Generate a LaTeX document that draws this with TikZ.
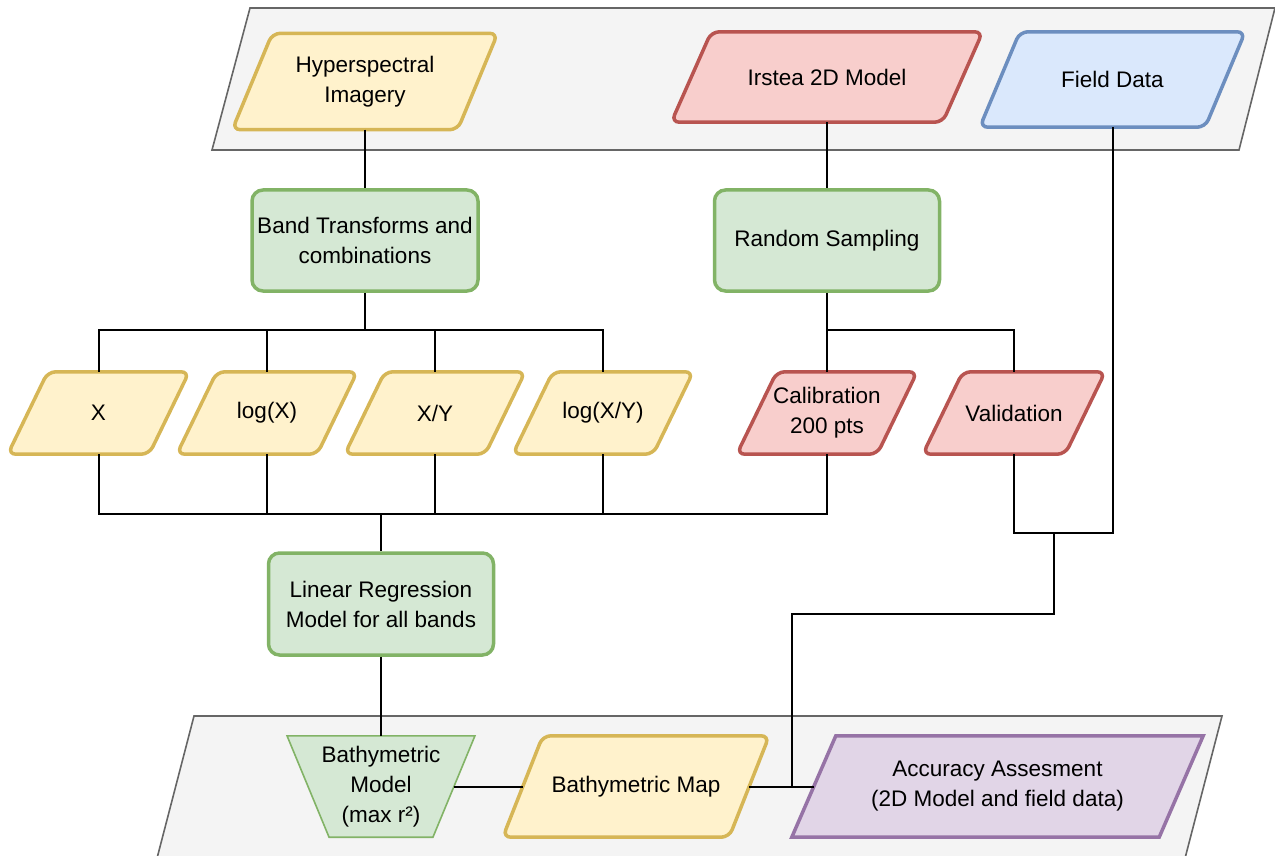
\documentclass[tikz,border=0pt]{standalone}
\usepackage{fontspec}
\setmainfont{Liberation Sans}
\usetikzlibrary{positioning,backgrounds}

\definecolor{yelfill}{HTML}{FFF2CC}
\definecolor{yelline}{HTML}{D6B656}
\definecolor{redfill}{HTML}{F8CECC}
\definecolor{redline}{HTML}{B85450}
\definecolor{bluefill}{HTML}{DAE8FC}
\definecolor{blueline}{HTML}{6C8EBF}
\definecolor{grnfill}{HTML}{D5E8D4}
\definecolor{grnline}{HTML}{82B366}
\definecolor{purfill}{HTML}{E1D5E7}
\definecolor{purline}{HTML}{9673A6}
\definecolor{panelfill}{HTML}{F4F4F4}
\definecolor{panelline}{HTML}{666666}

% slanted data box drawn behind a node (#1 node, #2 half skew, #3 look)
\newcommand{\databox}[3]{%
	\draw[#3] ([xshift=#2]#1.north west) -- ([xshift=#2]#1.north east)
		-- ([xshift=-#2]#1.south east) -- ([xshift=-#2]#1.south west) -- cycle;}

\begin{document}
\begin{tikzpicture}[
		x=1pt, y=-1pt,
		txt/.style={
		% The size:
		inner sep=0pt,
		minimum height=96,
		% Font
		align=center,
		font=\fontsize{22.5}{30}\selectfont
		},
		process/.style={
		txt,
		rectangle,
		rounded corners=11,
		line width=3.5pt,
		draw=grnline,
		fill=grnfill,
		minimum width=225,
		minimum height=101
		},
		yelbox/.style={line width=3.5pt, rounded corners=8, draw=yelline, fill=yelfill},
		redbox/.style={line width=3.5pt, rounded corners=8, draw=redline, fill=redfill},
		bluebox/.style={line width=3.5pt, rounded corners=8, draw=blueline, fill=bluefill},
		purbox/.style={line width=3.5pt, draw=purline, fill=purfill},
		panel/.style={line width=1.6pt, draw=panelline, fill=panelfill},
		link/.style={line width=2pt, draw=black}
	]
	\path[use as bounding box, clip] (0,0) rectangle (1275,856);

	% inputs
	\node (hyper)[txt, minimum width=225] at (365,81.5) {Hyperspectral\\Imagery};
	\node (irstea)[txt, minimum width=271, minimum height=90] at (827,77) {Irstea 2D Model};
	\node (field)[txt, minimum width=225, minimum height=95] at (1112.5,79.5) {Field Data};

	% processing
	\node (band)[process, minimum width=226] at (365,240.5) {Band Transforms and\\combinations};
	\node (random)[process] at (827,240.5) {Random Sampling};

	% band variants
	\node (x)[txt, minimum width=141, minimum height=82] at (98.5,413) {X};
	\node (logx)[txt, minimum width=140, minimum height=82] at (267,413) {log(X)};
	\node (xy)[txt, minimum width=140, minimum height=82] at (435,413) {X/Y};
	\node (logxy)[txt, minimum width=140, minimum height=82] at (603,413) {log(X/Y)};

	% samples
	\node (calib)[txt, minimum width=140, minimum height=82] at (827,413) {Calibration\\200 pts};
	\node (valid)[txt, minimum width=142, minimum height=82] at (1014,413) {Validation};

	\node (linreg)[process, minimum height=102] at (381,604) {Linear Regression\\Model for all bands};

	% outputs
	\node (bmodel)[txt, minimum width=145.5, minimum height=101] at (381,786.5) {Bathymetric\\Model\\(max r²)};
	\node (bmap)[txt, minimum width=226, minimum height=101] at (636,786.5) {Bathymetric Map};
	\node (acc)[txt, minimum width=367, minimum height=101] at (997.5,786.5) {Accuracy Assesment\\(2D Model and field data)};

	\begin{pgfonlayer}{background}
		\draw[panel] (250,8) -- (1275,8) -- (1239,150) -- (212,150) -- cycle;
		\draw[panel] (194,716) -- (1222,716) -- (1183,866) -- (155,866) -- cycle;
		\databox{hyper}{20}{yelbox}
		\databox{irstea}{20}{redbox}
		\databox{field}{20}{bluebox}
		\databox{x}{20}{yelbox}
		\databox{logx}{20}{yelbox}
		\databox{xy}{20}{yelbox}
		\databox{logxy}{20}{yelbox}
		\databox{calib}{20}{redbox}
		\databox{valid}{20}{redbox}
		\databox{bmap}{20}{yelbox}
		\databox{acc}{22}{purbox}
		\draw[line width=1.6pt, draw=grnline, fill=grnfill]
			([xshift=-21]bmodel.north west) -- ([xshift=21]bmodel.north east)
			-- ([xshift=-21]bmodel.south east) -- ([xshift=21]bmodel.south west) -- cycle;
	\end{pgfonlayer}

	\coordinate (splitL) at (365,330);
	\coordinate (splitR) at (827,330);
	\coordinate (joinB) at (381,514);
	\coordinate (joinV) at (1054,533);
	\coordinate (tapA) at (792,614);

	\draw[link] (hyper) -- (band);
	\draw[link] (irstea) -- (random);
	\draw[link] (band) -- (splitL);
	\draw[link] (x.north) |- (splitL) -| (logxy.north);
	\draw[link] (logx.north) -- (logx.north |- splitL);
	\draw[link] (xy.north) -- (xy.north |- splitL);
	\draw[link] (random) -- (splitR) -| (valid.north);
	\draw[link] (calib.north) -- (splitR);
	\draw[link] (x.south) |- (joinB) -| (calib.south);
	\draw[link] (logx.south) -- (logx.south |- joinB);
	\draw[link] (xy.south) -- (xy.south |- joinB);
	\draw[link] (logxy.south) -- (logxy.south |- joinB);
	\draw[link] (joinB) -- (linreg);
	\draw[link] (linreg) -- (bmodel);
	\draw[link] (bmodel.east) -- (bmap.west);
	\draw[link] (bmap.east) -- (acc.west);
	\draw[link] (valid.south) |- (joinV) -| (field.south);
	\draw[link] (joinV) |- (tapA) -- (tapA |- acc.west);
\end{tikzpicture}
\end{document}
